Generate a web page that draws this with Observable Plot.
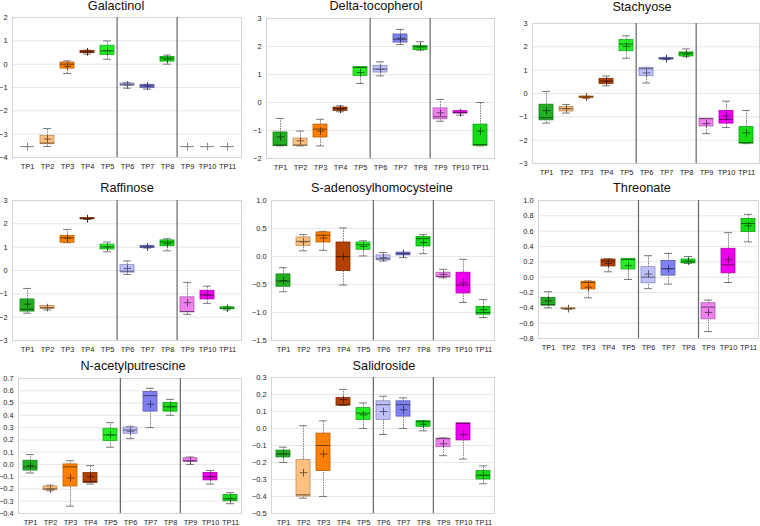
<!DOCTYPE html>
<html><head><meta charset="utf-8">
<script src="https://cdn.jsdelivr.net/npm/d3@7"></script>
<script src="https://cdn.jsdelivr.net/npm/@observablehq/plot@0.6"></script>
<style>
body{margin:0;background:#fff;}
#wrap{position:relative;width:760px;height:526px;overflow:hidden;background:#fff;font-family:"Liberation Sans",Arial,sans-serif;}
.ttl{position:absolute;width:300px;text-align:center;font-size:12.7px;line-height:1;color:#111;white-space:nowrap;}
</style></head>
<body><div id="wrap"></div>
<script>
const tps = ["TP1","TP2","TP3","TP4","TP5","TP6","TP7","TP8","TP9","TP10","TP11"];
const colors = ["#22b022","#ffc080","#ff8000","#b44000","#22ee22","#c0c0ff","#8080f0","#14dd14","#f080f0","#ee00ee","#14dd14"];
// rows: [whisker low, q1, median, q3, whisker high, mean]
const galactinol = [
 [-3.53,-3.53,-3.53,-3.53,-3.53,-3.53],
 [-3.53,-3.43,-3.38,-3.07,-2.76,-3.21],
 [-0.40,-0.19,0.0,0.07,0.14,-0.09],
 [0.43,0.47,0.53,0.57,0.60,0.53],
 [0.21,0.39,0.57,0.79,1.0,0.57],
 [-1.03,-0.93,-0.86,-0.83,-0.79,-0.89],
 [-1.07,-1.03,-0.93,-0.89,-0.86,-0.94],
 [0.0,0.11,0.26,0.31,0.39,0.21],
 [-3.53,-3.53,-3.53,-3.53,-3.53,-3.53],
 [-3.53,-3.53,-3.53,-3.53,-3.53,-3.53],
 [-3.53,-3.53,-3.53,-3.53,-3.53,-3.53]
];
const deltaTocopherol = [
 [-1.55,-1.55,-1.52,-1.07,-0.57,-1.23],
 [-1.55,-1.55,-1.52,-1.29,-1.02,-1.37],
 [-1.55,-1.25,-0.95,-0.79,-0.60,-1.02],
 [-0.33,-0.30,-0.21,-0.18,-0.12,-0.24],
 [0.68,0.95,1.25,1.27,1.27,1.07],
 [0.95,1.07,1.19,1.31,1.45,1.19],
 [2.07,2.14,2.26,2.43,2.61,2.29],
 [1.87,1.87,1.99,2.02,2.17,1.99],
 [-0.67,-0.60,-0.51,-0.21,0.11,-0.37],
 [-0.45,-0.39,-0.36,-0.31,-0.30,-0.36],
 [-1.55,-1.55,-1.50,-0.79,0.0,-1.02]
];
const stachyose = [
 [-1.27,-1.15,-1.04,-0.48,0.09,-0.73],
 [-0.84,-0.77,-0.65,-0.58,-0.47,-0.65],
 [-0.21,-0.20,-0.14,-0.13,-0.12,-0.15],
 [0.33,0.41,0.53,0.63,0.75,0.53],
 [1.51,1.81,2.12,2.29,2.47,2.02],
 [0.45,0.74,1.06,1.09,1.12,0.88],
 [1.45,1.46,1.49,1.52,1.55,1.49],
 [1.58,1.59,1.73,1.76,1.91,1.69],
 [-1.72,-1.41,-1.08,-1.08,-1.08,-1.29],
 [-1.46,-1.29,-1.11,-0.75,-0.33,-0.97],
 [-2.15,-2.15,-2.10,-1.44,-0.73,-1.68]
];
const raffinose = [
 [-1.83,-1.76,-1.66,-1.24,-0.77,-1.44],
 [-1.69,-1.65,-1.59,-1.52,-1.51,-1.59],
 [1.19,1.19,1.40,1.48,1.76,1.39],
 [2.19,2.20,2.22,2.25,2.26,2.22],
 [0.80,0.90,1.01,1.11,1.22,1.01],
 [-0.17,-0.09,-0.03,0.23,0.41,0.09],
 [0.96,0.97,1.01,1.05,1.08,1.01],
 [0.84,1.04,1.22,1.29,1.36,1.15],
 [-1.88,-1.79,-1.76,-1.15,-0.51,-1.38],
 [-1.41,-1.24,-1.05,-0.87,-0.67,-1.05],
 [-1.69,-1.66,-1.62,-1.58,-1.55,-1.62]
];
const sAdenosyl = [
 [-0.63,-0.54,-0.44,-0.32,-0.20,-0.43],
 [0.10,0.19,0.27,0.34,0.39,0.26],
 [0.11,0.25,0.38,0.43,0.45,0.33],
 [-0.51,-0.26,0.0,0.25,0.51,0.0],
 [0.01,0.12,0.21,0.25,0.28,0.18],
 [-0.08,-0.07,-0.04,0.02,0.07,-0.02],
 [-0.02,0.02,0.05,0.07,0.07,0.05],
 [0.05,0.18,0.32,0.35,0.39,0.25],
 [-0.38,-0.37,-0.36,-0.29,-0.23,-0.32],
 [-0.82,-0.66,-0.51,-0.29,-0.05,-0.47],
 [-1.09,-1.04,-1.00,-0.90,-0.77,-0.95]
];
const threonate = [
 [-0.40,-0.37,-0.36,-0.27,-0.19,-0.31],
 [-0.42,-0.42,-0.41,-0.40,-0.40,-0.41],
 [-0.27,-0.16,-0.07,-0.06,-0.05,-0.13],
 [0.07,0.14,0.21,0.23,0.24,0.18],
 [-0.03,0.10,0.23,0.24,0.24,0.15],
 [-0.15,-0.08,0.0,0.13,0.28,0.04],
 [-0.09,0.02,0.11,0.21,0.31,0.11],
 [0.18,0.18,0.20,0.23,0.27,0.21],
 [-0.71,-0.55,-0.39,-0.34,-0.30,-0.46],
 [-0.07,0.05,0.16,0.37,0.58,0.23],
 [0.46,0.59,0.70,0.76,0.82,0.67]
];
const nAcetylputrescine = [
 [-0.07,-0.05,-0.02,0.03,0.08,-0.01],
 [-0.215,-0.21,-0.20,-0.18,-0.17,-0.20],
 [-0.34,-0.18,-0.02,0.0,0.03,-0.11],
 [-0.16,-0.15,-0.14,-0.07,-0.01,-0.10],
 [0.14,0.19,0.24,0.29,0.34,0.24],
 [0.21,0.25,0.28,0.30,0.31,0.27],
 [0.30,0.43,0.56,0.59,0.62,0.49],
 [0.40,0.43,0.47,0.50,0.53,0.47],
 [0.0,0.02,0.03,0.05,0.06,0.03],
 [-0.16,-0.13,-0.10,-0.07,-0.05,-0.10],
 [-0.32,-0.30,-0.28,-0.25,-0.23,-0.28]
];
const salidroside = [
 [-0.20,-0.17,-0.15,-0.13,-0.11,-0.15],
 [-0.41,-0.40,-0.39,-0.186,0.016,-0.26],
 [-0.40,-0.25,-0.10,-0.03,0.045,-0.15],
 [0.135,0.135,0.14,0.18,0.23,0.17],
 [0.0,0.05,0.09,0.12,0.15,0.08],
 [-0.035,0.05,0.14,0.16,0.19,0.10],
 [0.0,0.07,0.14,0.16,0.18,0.11],
 [-0.014,0.01,0.04,0.043,0.045,0.025],
 [-0.16,-0.11,-0.06,-0.06,-0.055,-0.09],
 [-0.18,-0.07,0.03,0.03,0.03,-0.035],
 [-0.325,-0.30,-0.275,-0.25,-0.22,-0.275]
];
const titles = ["Galactinol","Delta-tocopherol","Stachyose","Raffinose","S-adenosylhomocysteine","Threonate","N-acetylputrescine","Salidroside"];
const yTicks = [
 d3.range(-4,2.01,1), d3.range(-2,3.01,1), d3.range(-3,3.01,1), d3.range(-3,3.01,1),
 d3.range(-1.5,1.01,0.5), d3.range(-0.8,1.01,0.2), d3.range(-0.4,0.71,0.1), d3.range(-0.5,0.31,0.1)
];
const yFormats = ["d","d","d","d",".1f",".1f",".1f",".1f"];
const datasets = [galactinol,deltaTocopherol,stachyose,raffinose,sAdenosyl,threonate,nAcetylputrescine,salidroside];
// layout: plot frame (x,y,w,h) and title centre/baseline
const layout = [
 {x:12,y:17,w:229,h:140,tx:116,tb:10.5},
 {x:266,y:18,w:228,h:140,tx:376,tb:10.5},
 {x:532,y:23,w:227,h:140,tx:642,tb:12},
 {x:12,y:200,w:229,h:140,tx:127,tb:193},
 {x:271,y:200,w:223,h:140,tx:382,tb:193},
 {x:538,y:200,w:220,h:138,tx:642,tb:193},
 {x:18,y:378,w:223,h:135,tx:133,tb:370.5},
 {x:271,y:377,w:223,h:136,tx:384,tb:370.5}
];
const ML=30, MR=2, MT=4, MB=16;
const wrap = document.getElementById("wrap");
datasets.forEach((data, k) => {
  const L = layout[k];
  const ticks = yTicks[k].map(v => +v.toFixed(2));
  const rows = data.map((d,i) => {
    const flat = d[1] === d[3];
    return {tp:tps[i], lo:d[0], q1:d[1], med:d[2], q3:d[3], hi:d[4], mean:d[5],
      fill:colors[i], edge:d3.color(colors[i]).darker(0.9).formatHex(),
      medc: flat ? "#8a8a8a" : d3.color(colors[i]).darker(2.2).formatHex(),
      dark: flat ? "#8a8a8a" : d3.color(colors[i]).darker(2.2).formatHex()};
  });
  const step = L.w/11, bw = step*0.7, capIn = (bw - step*0.4)/2;
  const svg = Plot.plot({
    width: L.w+ML+MR, height: L.h+MT+MB,
    marginLeft: ML, marginRight: MR, marginTop: MT, marginBottom: MB,
    style: {fontFamily:'"Liberation Sans",Arial,sans-serif', fontSize:"7.4px", color:"#222", background:"transparent", overflow:"visible"},
    x: {type:"band", domain:tps, paddingInner:0.3, paddingOuter:0.15, align:0.5, label:null},
    y: {domain:[ticks[0], ticks[ticks.length-1]], label:null},
    color: {type:"identity"},
    marks: [
      Plot.gridY(ticks, {stroke:"#e6e6e6", strokeOpacity:1}),
      Plot.frame({stroke:"#d4d4d4"}),
      Plot.ruleX(rows, {x:"tp", y1:"lo", y2:"q1", stroke:"#808080", strokeDasharray:"1.5,1"}),
      Plot.ruleX(rows, {x:"tp", y1:"q3", y2:"hi", stroke:"#808080", strokeDasharray:"1.5,1"}),
      Plot.tickY(rows, {x:"tp", y:"lo", stroke:"#777", insetLeft:capIn, insetRight:capIn}),
      Plot.tickY(rows, {x:"tp", y:"hi", stroke:"#777", insetLeft:capIn, insetRight:capIn}),
      Plot.barY(rows, {x:"tp", y1:"q1", y2:"q3", fill:"fill", stroke:"edge", strokeWidth:0.8}),
      Plot.tickY(rows, {x:"tp", y:"med", stroke:"medc", strokeWidth:1}),
      Plot.dot(rows, {x:"tp", y:"mean", symbol:"plus", r:2.6, stroke:"dark", strokeWidth:1}),
      Plot.ruleX(["TP6","TP9"], {x:d=>d, dx:-step/2, stroke:"#666", strokeWidth:1.2}),
      Plot.axisX({tickSize:0, tickPadding:6.5, fill:"#222", label:null}),
      Plot.axisY(ticks, {tickSize:0, tickPadding:5, tickFormat:yFormats[k], fill:"#222", label:null})
    ]
  });
  svg.style.position = "absolute";
  svg.style.left = (L.x-ML)+"px";
  svg.style.top = (L.y-MT)+"px";
  wrap.appendChild(svg);
  const t = document.createElement("div");
  t.className = "ttl";
  t.textContent = titles[k];
  t.style.left = (L.tx-150)+"px";
  t.style.top = (L.tb-10.75)+"px";
  wrap.appendChild(t);
});
</script></body></html>
